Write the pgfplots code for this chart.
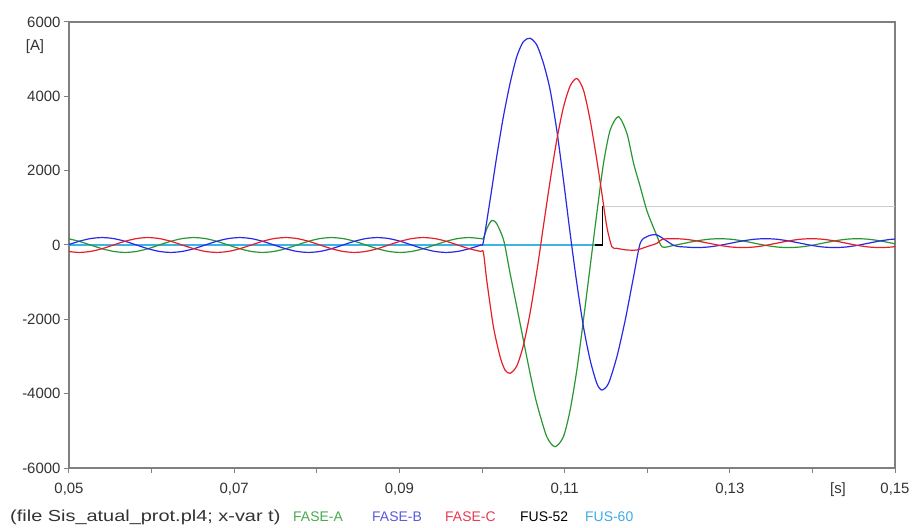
\documentclass[border=0pt]{standalone}
\usepackage{pgfplots}
\pgfplotsset{compat=1.18}
\usepackage{fontspec}
\setmainfont{Liberation Sans}
\definecolor{faseA}{RGB}{40,150,50}
\definecolor{faseB}{RGB}{40,40,230}
\definecolor{faseC}{RGB}{230,30,40}
\definecolor{fus60}{RGB}{60,180,230}
\definecolor{framegray}{RGB}{128,128,128}
\definecolor{legA}{RGB}{70,170,80}
\definecolor{legB}{RGB}{90,90,220}
\definecolor{legC}{RGB}{230,60,80}
\definecolor{legF}{RGB}{60,170,230}
\begin{document}
\begin{tikzpicture}
\path[use as bounding box] (-69bp,-60bp) rectangle (847bp,468bp);
\begin{axis}[
  at={(0,0)}, anchor=south west,
  scale only axis, width=826bp, height=446bp,
  xmin=0.05, xmax=0.15, ymin=-6000, ymax=6000,
  xtick={0.05,0.06,0.07,0.08,0.09,0.10,0.11,0.12,0.13,0.14,0.15},
  xticklabels={{0,05},{},{0,07},{},{0,09},{},{0,11},{},{0,13},{},{0,15}},
  ytick={-6000,-4000,-2000,0,2000,4000,6000},
  yticklabels={-6000,-4000,-2000,0,2000,4000,6000},
  tick pos=left, tick align=outside, major tick length=5bp,
  axis line style={framegray, line width=1.6bp},
  tick style={framegray, line width=1bp},
  ticklabel style={font=\fontsize{15}{17}\selectfont, text=black!80},
  xticklabel style={yshift=-7bp},
  every axis plot/.append style={line width=1.2bp, smooth, tension=0.45},
]
% FUS-60
\addplot[fus60, line width=1.6bp, sharp plot] coordinates {(0.05,0) (0.1137,0)};
\addplot[black!20, line width=0.8bp, sharp plot] coordinates {(0.1146,1050) (0.15,1050)};
% FASE-A
\addplot[faseA] table {
0.04983 173
0.05122 100
0.05261 0
0.05400 -100
0.05539 -173
0.05678 -200
0.05817 -173
0.05956 -100
0.06094 0
0.06233 100
0.06372 173
0.06511 200
0.06650 173
0.06789 100
0.06928 0
0.07067 -100
0.07206 -173
0.07344 -200
0.07483 -173
0.07622 -100
0.07761 0
0.07900 100
0.08039 173
0.08178 200
0.08317 173
0.08456 100
0.08594 0
0.08733 -100
0.08872 -173
0.09011 -200
0.09150 -173
0.09289 -100
0.09428 0
0.09567 100
0.09706 173
0.09844 200
0.09983 173
0.10017 180
0.10060 450
0.10117 660
0.10170 600
0.10220 380
0.10270 60
0.10340 -762
0.10421 -1660
0.10501 -2556
0.10582 -3453
0.10663 -4260
0.10784 -5157
0.10885 -5427
0.10986 -5157
0.11067 -4440
0.11148 -3364
0.11228 -2018
0.11309 -583
0.11390 852
0.11471 2198
0.11552 3095
0.11653 3454
0.11754 3005
0.11835 2198
0.11915 1570
0.12000 900
0.12117 250
0.12183 -54
0.12322 -10
0.12461 50
0.12600 110
0.12739 154
0.12878 170
0.13017 154
0.13156 110
0.13294 50
0.13433 -10
0.13572 -54
0.13711 -70
0.13850 -54
0.13989 -10
0.14128 50
0.14267 110
0.14406 154
0.14544 170
0.14683 154
0.14822 110
0.14961 50
0.15100 -10
};
% FASE-B
\addplot[faseB] table {
0.04983 0
0.05122 100
0.05261 173
0.05400 200
0.05539 173
0.05678 100
0.05817 0
0.05956 -100
0.06094 -173
0.06233 -200
0.06372 -173
0.06511 -100
0.06650 0
0.06789 100
0.06928 173
0.07067 200
0.07206 173
0.07344 100
0.07483 0
0.07622 -100
0.07761 -173
0.07900 -200
0.08039 -173
0.08178 -100
0.08317 0
0.08456 100
0.08594 173
0.08733 200
0.08872 173
0.09011 100
0.09150 0
0.09289 -100
0.09428 -173
0.09567 -200
0.09706 -173
0.09844 -100
0.09983 0
0.10017 90
0.10098 1211
0.10178 2377
0.10259 3454
0.10340 4350
0.10421 5068
0.10501 5472
0.10582 5562
0.10663 5382
0.10744 4889
0.10825 4171
0.10905 3095
0.10986 1749
0.11067 314
0.11148 -1031
0.11228 -2197
0.11309 -3094
0.11390 -3722
0.11451 -3902
0.11532 -3722
0.11633 -3005
0.11734 -2018
0.11835 -852
0.11915 45
0.11996 225
0.12117 270
0.12322 -10
0.12461 -54
0.12600 -70
0.12739 -54
0.12878 -10
0.13017 50
0.13156 110
0.13294 154
0.13433 170
0.13572 154
0.13711 110
0.13850 50
0.13989 -10
0.14128 -54
0.14267 -70
0.14406 -54
0.14544 -10
0.14683 50
0.14822 110
0.14961 154
0.15100 170
};
% FASE-C
\addplot[faseC] table {
0.04983 -173
0.05122 -200
0.05261 -173
0.05400 -100
0.05539 0
0.05678 100
0.05817 173
0.05956 200
0.06094 173
0.06233 100
0.06372 0
0.06511 -100
0.06650 -173
0.06789 -200
0.06928 -173
0.07067 -100
0.07206 0
0.07344 100
0.07483 173
0.07622 200
0.07761 173
0.07900 100
0.08039 0
0.08178 -100
0.08317 -173
0.08456 -200
0.08594 -173
0.08733 -100
0.08872 0
0.09011 100
0.09150 173
0.09289 200
0.09428 173
0.09567 100
0.09706 0
0.09844 -100
0.09983 -173
0.10017 -200
0.10057 -942
0.10138 -2197
0.10219 -3005
0.10279 -3364
0.10340 -3453
0.10421 -3256
0.10501 -2701
0.10582 -1828
0.10663 -722
0.10744 515
0.10825 1728
0.10905 2823
0.10986 3707
0.11067 4278
0.11148 4480
0.11228 4171
0.11309 3364
0.11390 2287
0.11451 1391
0.11511 494
0.11572 -45
0.11633 -90
0.11754 -134
0.11875 -134
0.11996 -45
0.12117 45
0.12183 154
0.12322 170
0.12461 154
0.12600 110
0.12739 50
0.12878 -10
0.13017 -54
0.13156 -70
0.13294 -54
0.13433 -10
0.13572 50
0.13711 110
0.13850 154
0.13989 170
0.14128 154
0.14267 110
0.14406 50
0.14544 -10
0.14683 -54
0.14822 -70
0.14961 -54
0.15100 -10
};
% FUS-52
\addplot[black, line width=1.5bp, sharp plot] coordinates {(0.1137,0) (0.1146,0) (0.1146,1050)};
\end{axis}
\node[font=\fontsize{15}{17}\selectfont, text=black!80] at (-34bp,421bp) {[A]};
\node[font=\fontsize{15}{17}\selectfont, text=black!80] at (769bp,-22bp) {[s]};
\node[font=\fontsize{16}{18}\selectfont, text=black!80, anchor=west, inner sep=0pt, xscale=1.25] at (-59bp,-49bp) {(file Sis\_atual\_prot.pl4; x-var t)};
\node[font=\fontsize{14}{16}\selectfont, text=legA, anchor=west, inner sep=0pt] at (224bp,-49bp) {FASE-A};
\node[font=\fontsize{14}{16}\selectfont, text=legB, anchor=west, inner sep=0pt] at (303bp,-49bp) {FASE-B};
\node[font=\fontsize{14}{16}\selectfont, text=legC, anchor=west, inner sep=0pt] at (376bp,-49bp) {FASE-C};
\node[font=\fontsize{14}{16}\selectfont, text=black, anchor=west, inner sep=0pt] at (451bp,-49bp) {FUS-52};
\node[font=\fontsize{14}{16}\selectfont, text=legF, anchor=west, inner sep=0pt] at (516bp,-49bp) {FUS-60};
\end{tikzpicture}
\end{document}
